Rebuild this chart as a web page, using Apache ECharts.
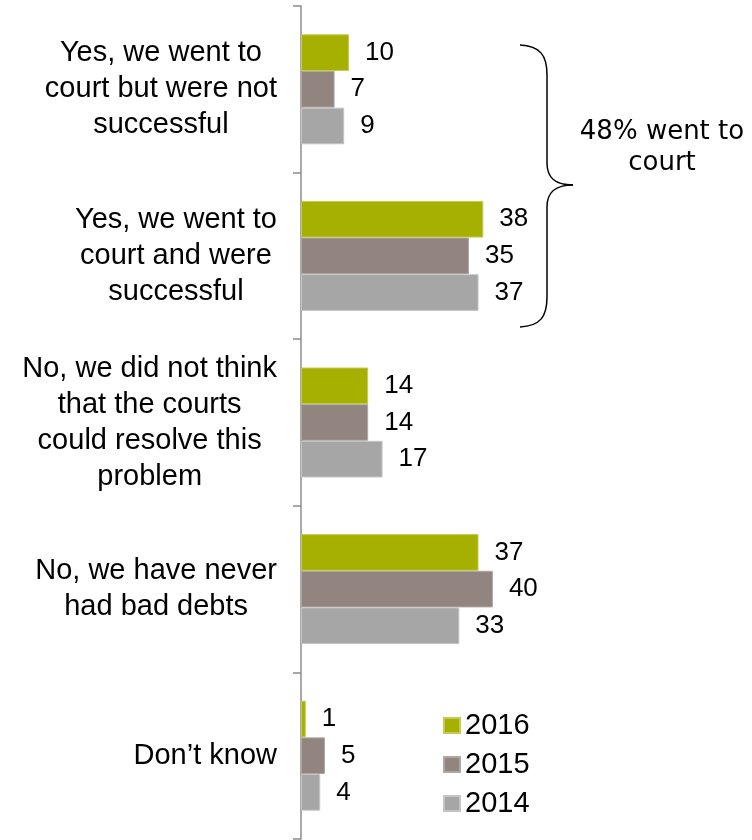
<!DOCTYPE html>
<html>
<head>
<meta charset="utf-8">
<script src="https://cdn.jsdelivr.net/npm/echarts@6/dist/echarts.min.js"></script>
<style>
  html, body { margin: 0; padding: 0; background: #fff; }
  #chart { width: 752px; height: 840px; }
</style>
</head>
<body>
<div id="chart"></div>
<script>
// Survey answers, listed top to bottom
const categories = [
  'Yes, we went to\ncourt but were not\nsuccessful',
  'Yes, we went to\ncourt and were\nsuccessful',
  'No, we did not think\nthat the courts\ncould resolve this\nproblem',
  'No, we have never\nhad bad debts',
  'Don\u2019t know'
];
const years = ['2016', '2015', '2014'];
const values2016 = [10, 38, 14, 37, 1];
const values2015 = [7, 35, 14, 40, 5];
const values2014 = [9, 37, 17, 33, 4];
const braceNote = '48% went to\ncourt';

const colors = ['#a5b000', '#928580', '#a6a6a6'];
const borders = ['#c3cb55', '#b0a6a2', '#c4c4c4'];
const seriesValues = [values2016, values2015, values2014];

const chart = echarts.init(document.getElementById('chart'));

const series = years.map((y, i) => ({
  name: y,
  type: 'bar',
  data: seriesValues[i],
  barGap: '0%',
  barCategoryGap: '34%',
  itemStyle: { color: colors[i], borderColor: borders[i], borderWidth: 1 },
  label: {
    show: true,
    position: 'right',
    distance: 16,
    fontFamily: 'Liberation Sans, Arial, sans-serif',
    fontSize: 26,
    color: '#000'
  }
}));

// Curly brace grouping the two "went to court" answers
const braceStyle = { stroke: '#000', lineWidth: 1.5, fill: null };
const curve = (x1, y1, cx1, cy1, cx2, cy2, x2, y2) => ({
  type: 'bezierCurve',
  shape: { x1, y1, cpx1: cx1, cpy1: cy1, cpx2: cx2, cpy2: cy2, x2, y2 },
  style: braceStyle
});
const straight = (x1, y1, x2, y2) => ({
  type: 'line',
  shape: { x1, y1, x2, y2 },
  style: braceStyle
});

// Category labels: block right-aligned to the axis, each line centred in the block
const labelFont = {
  fontFamily: 'Liberation Sans, Arial, sans-serif',
  fontSize: 29,
  lineHeight: 36,
  color: '#000'
};

chart.setOption({
  animation: false,
  backgroundColor: '#fff',
  grid: { left: 301, right: 0, top: 6, bottom: 1, containLabel: false },
  xAxis: {
    type: 'value',
    min: 0,
    max: 94,
    show: false
  },
  yAxis: {
    type: 'category',
    inverse: true,
    data: categories,
    axisLine: { show: true, lineStyle: { color: '#8c8c8c', width: 1.5 } },
    axisTick: { show: true, length: 8, lineStyle: { color: '#8c8c8c', width: 1.5 } },
    axisLabel: Object.assign({
      margin: 24,
      align: 'right',
      formatter: (v) => v.split('\n').map((l) => '{c|' + l + '}').join('\n'),
      rich: { c: Object.assign({ align: 'center' }, labelFont) }
    }, labelFont),
    splitLine: { show: false }
  },
  legend: {
    orient: 'vertical',
    left: 443,
    top: 711,
    padding: 0,
    itemWidth: 16,
    itemHeight: 15,
    itemGap: 10,
    icon: 'rect',
    data: years,
    textStyle: {
      fontFamily: 'Liberation Sans, Arial, sans-serif',
      fontSize: 29,
      color: '#000'
    }
  },
  graphic: [
    curve(520, 45, 540, 46, 547, 55, 547, 75),
    straight(547, 75, 547, 163),
    curve(547, 163, 547, 178, 555, 185, 573, 185),
    curve(573, 185, 555, 185, 547, 192, 547, 207),
    straight(547, 207, 547, 297),
    curve(547, 297, 547, 317, 540, 326, 520, 327),
    {
      type: 'text',
      x: 662,
      y: 117,
      style: {
        text: braceNote,
        align: 'center',
        fontFamily: 'DejaVu Sans, Verdana, sans-serif',
        fontSize: 26,
        lineHeight: 31,
        fill: '#000'
      }
    }
  ],
  series: series
});
</script>
</body>
</html>
